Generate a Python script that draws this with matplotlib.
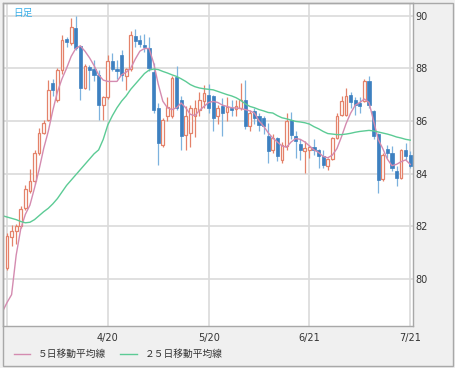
"""
Daily candlestick chart with 5 / 25 day moving averages
"""

import numpy as np
import matplotlib.pyplot as plt
from matplotlib.patches import Rectangle
from matplotlib.lines import Line2D

plt.close("all")

"""
Data (read off the chart)
"""

opens = [80.42, 81.58, 81.82, 81.99, 82.69, 83.32, 83.70, 84.78, 85.54, 86.05,
         87.45, 86.81, 87.92, 89.11, 88.96, 89.53, 88.86, 87.25, 88.05, 87.97,
         87.76, 86.62, 86.91, 88.26, 87.97, 88.52, 87.72, 87.97, 89.21, 89.06,
         88.90, 88.77, 87.85, 86.49, 85.10, 86.17, 86.17, 87.67, 86.81, 85.48,
         85.54, 86.17, 86.43, 86.74, 87.00, 86.93, 86.17, 86.55, 86.32, 86.49,
         86.45, 86.49, 86.81, 85.79, 86.36, 86.17, 86.10, 85.41, 84.91, 85.35,
         84.52, 85.03, 86.05, 85.44, 85.13, 84.84, 84.90, 85.00, 84.88, 84.68,
         84.27, 84.55, 85.35, 86.24, 86.24, 87.00, 86.81, 86.68, 86.74, 87.50,
         86.36, 85.51, 83.79, 84.93, 84.80, 84.08, 83.83, 84.88, 84.71]
highs = [81.74, 82.05, 82.09, 82.75, 83.57, 84.17, 84.90, 85.73, 86.05, 87.57,
         87.60, 88.00, 89.28, 89.20, 89.91, 90.00, 88.90, 88.15, 88.14, 88.30,
         87.95, 86.96, 88.52, 88.58, 88.30, 88.70, 88.00, 89.40, 89.50, 89.25,
         89.30, 89.20, 88.20, 86.68, 86.10, 86.90, 87.70, 88.07, 86.96, 86.55,
         86.60, 86.80, 87.10, 87.38, 87.40, 87.00, 86.60, 86.87, 86.90, 86.80,
         86.80, 87.44, 87.57, 86.40, 86.50, 86.30, 86.20, 85.92, 85.50, 85.40,
         85.20, 86.30, 86.32, 85.60, 85.30, 85.22, 85.10, 85.30, 84.95, 84.90,
         84.60, 85.40, 86.30, 86.93, 87.25, 87.10, 86.90, 86.90, 87.60, 87.69,
         86.40, 85.55, 84.80, 85.10, 85.03, 84.30, 84.95, 85.16, 84.85]
lows = [80.32, 81.23, 81.33, 81.95, 82.60, 83.27, 83.60, 84.70, 85.50, 86.00,
        86.93, 86.70, 87.80, 88.80, 88.90, 88.70, 86.81, 87.20, 87.19, 87.50,
        86.05, 86.05, 86.85, 87.90, 87.60, 87.50, 87.19, 87.90, 88.80, 88.80,
        88.60, 87.90, 86.30, 84.33, 85.00, 86.00, 86.10, 86.40, 84.90, 84.90,
        85.00, 85.40, 86.20, 86.50, 86.30, 85.60, 85.90, 85.41, 86.00, 86.20,
        86.20, 86.40, 85.70, 85.60, 85.90, 85.60, 85.50, 84.40, 84.80, 84.46,
        84.40, 84.90, 85.30, 84.59, 84.50, 84.02, 84.60, 84.70, 84.21, 84.20,
        84.14, 84.50, 85.30, 86.20, 86.20, 86.50, 86.24, 86.30, 86.70, 86.50,
        85.30, 83.26, 83.70, 84.60, 84.10, 83.51, 83.80, 84.50, 84.20]
closes = [81.61, 81.82, 81.99, 82.65, 83.41, 83.70, 84.80, 85.54, 85.92, 87.19,
          87.19, 87.92, 89.09, 89.00, 89.57, 88.77, 87.25, 88.07, 87.95, 87.76,
          86.62, 86.91, 88.26, 87.97, 87.88, 87.76, 87.97, 89.28, 89.02, 88.94,
          88.81, 88.01, 86.43, 85.16, 86.05, 86.53, 87.63, 86.49, 85.41, 86.17,
          86.49, 86.49, 86.81, 87.06, 86.50, 86.11, 86.49, 86.30, 86.53, 86.43,
          86.55, 86.81, 85.81, 86.30, 86.11, 85.86, 85.80, 84.84, 85.35, 84.65,
          85.10, 85.98, 85.48, 85.22, 84.91, 84.97, 85.00, 84.90, 84.68, 84.33,
          84.55, 85.35, 86.20, 86.74, 86.96, 86.70, 86.62, 86.55, 87.50, 86.62,
          85.44, 83.76, 84.71, 84.80, 84.21, 83.83, 84.88, 84.65, 84.30]

# moving averages, first value is the day before the first visible candle
ma5 = [78.75, 79.10, 79.40, 80.90, 81.90, 82.45, 82.80, 83.45, 84.15, 84.95,
       85.60, 86.40, 87.10, 87.60, 88.00, 88.45, 88.75, 88.85, 88.65, 88.40,
       88.10, 87.75, 87.55, 87.50, 87.50, 87.50, 87.75, 87.85, 88.00, 88.35,
       88.65, 88.75, 88.75, 88.20, 87.40, 86.75, 86.50, 86.43, 86.50, 86.68,
       86.50, 86.25, 86.20, 86.40, 86.55, 86.70, 86.74, 86.70, 86.60, 86.55,
       86.50, 86.49, 86.47, 86.43, 86.38, 86.30, 86.00, 85.80, 85.55, 85.35,
       85.20, 85.05, 85.00, 85.20, 85.33, 85.30, 85.20, 85.05, 84.90, 84.80,
       84.65, 84.60, 84.70, 84.95, 85.40, 85.90, 86.30, 86.60, 86.70, 86.83,
       86.70, 86.00, 85.30, 84.95, 84.55, 84.30, 84.35, 84.45, 84.52, 84.35]
ma25 = [82.40, 82.35, 82.30, 82.25, 82.18, 82.13, 82.15, 82.25, 82.40, 82.55,
        82.68, 82.85, 83.05, 83.30, 83.55, 83.75, 83.95, 84.15, 84.35, 84.55,
        84.75, 84.90, 85.30, 85.85, 86.20, 86.50, 86.75, 86.95, 87.20, 87.40,
        87.60, 87.80, 87.93, 87.97, 87.95, 87.88, 87.82, 87.75, 87.69, 87.60,
        87.50, 87.38, 87.30, 87.25, 87.22, 87.20, 87.18, 87.12, 87.06, 87.00,
        86.95, 86.88, 86.78, 86.65, 86.55, 86.50, 86.43, 86.38, 86.32, 86.30,
        86.20, 86.12, 86.08, 86.03, 85.98, 85.96, 85.93, 85.88, 85.78, 85.70,
        85.60, 85.52, 85.50, 85.48, 85.48, 85.50, 85.53, 85.57, 85.60, 85.62,
        85.64, 85.62, 85.58, 85.54, 85.50, 85.45, 85.39, 85.35, 85.30, 85.27]

tick_pos = [0, 22, 44, 66, 88]
tick_labels = ["", "4/20", "5/20", "6/21", "7/21"]
yticks = [80, 82, 84, 86, 88, 90]

"""
Plot
"""

jp = ["Noto Sans CJK JP", "DejaVu Sans"]

up_col = "#e4826a"
dn_col = "#3d80c0"
dn_wick = "#7db2de"

o = np.array(opens)
h = np.array(highs)
l = np.array(lows)
c = np.array(closes)
x = np.arange(len(o))
up = c >= o

fig = plt.figure(figsize=(4.55, 3.68), dpi=100, facecolor="#f0f0f0")
ax = fig.add_axes([2.7/455, 42/368, 410.3/455, 323.3/368])
ax.set_facecolor("white")

ax.set_xlim(-0.94, 88.6)
ax.set_ylim(78.21, 90.49)

ax.set_xticks(tick_pos)
ax.set_xticklabels(tick_labels)
ax.set_yticks(yticks)
ax.yaxis.tick_right()
ax.tick_params(length=0, labelsize=7, colors="#333333")
ax.tick_params(axis="x", pad=5)
ax.tick_params(axis="y", pad=2)
ax.grid(True, color="#dadada", lw=1.2, zorder=0)
ax.set_axisbelow(True)
for s in ax.spines.values():
    s.set_color("#a8a8a8")
    s.set_linewidth(1.0)

# wicks
ax.vlines(x[up], l[up], h[up], color=up_col, lw=0.9, zorder=2)
ax.vlines(x[~up], l[~up], h[~up], color=dn_wick, lw=0.9, zorder=2)

# bodies
body_lo = np.minimum(o, c)
body_h = np.maximum(np.abs(c - o), 0.04)
ax.bar(x[up], body_h[up], bottom=body_lo[up], width=0.6,
       facecolor="white", edgecolor=up_col, lw=0.9, zorder=3)
ax.bar(x[~up], body_h[~up], bottom=body_lo[~up], width=0.7,
       facecolor=dn_col, edgecolor=dn_col, lw=0.5, zorder=3)

# moving averages
ma_x = np.arange(-1, len(o))
ax.plot(ma_x, ma5, color="#d48bb0", lw=1.0, zorder=4)
ax.plot(ma_x, ma25, color="#5ccb95", lw=1.0, zorder=4)

ax.text(0.025, 0.985, "日足", transform=ax.transAxes, ha="left", va="top",
        fontsize=7, color="#38aee8", family=jp)

handles = [Line2D([], [], color="#d48bb0", lw=1.0),
           Line2D([], [], color="#5ccb95", lw=1.0)]
leg = fig.legend(handles, ["５日移動平均線", "２５日移動平均線"],
                 loc="center left", bbox_to_anchor=(9/455, 1 - 354/368),
                 ncol=2, frameon=False, fontsize=7, handlelength=1.7,
                 handletextpad=0.8, columnspacing=1.4, borderpad=0,
                 prop={"family": jp, "size": 7})
for t in leg.get_texts():
    t.set_color("#333333")

# outer frame
fig.patches.append(Rectangle((2.7/455, 2.5/368), 450/455, 363/368,
                             transform=fig.transFigure, fill=False,
                             edgecolor="#a8a8a8", lw=1.0))

plt.savefig("out.png", dpi=100, facecolor=fig.get_facecolor())
